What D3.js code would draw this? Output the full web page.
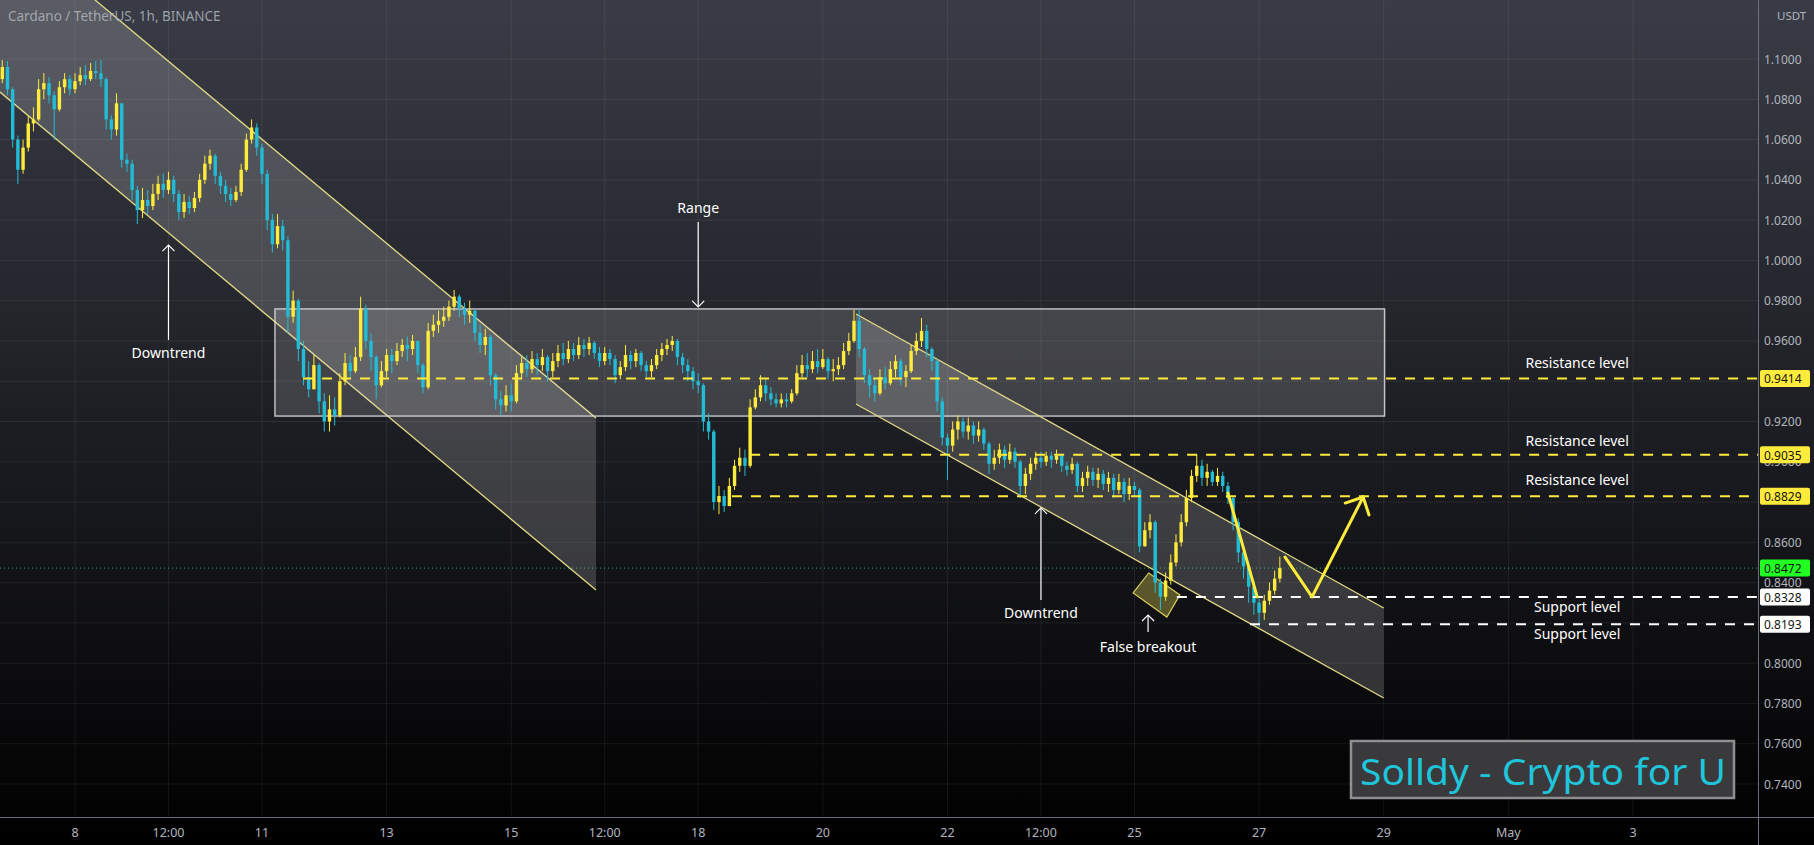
<!DOCTYPE html>
<html><head><meta charset="utf-8">
<script src="https://cdn.jsdelivr.net/npm/d3@7"></script>
<style>html,body{margin:0;padding:0;background:#000;overflow:hidden}</style>
</head><body>
<svg id="c" width="1814" height="845"></svg>
<script>
// ---------- DATA (ADA/USDT, 2h bars, prices x 1e-4) ----------
const title = "Cardano / TetherUS, 1h, BINANCE";
const startTime = "2022-04-06T20:00:00Z";
const barHours = 2;
const firstOpen = 10900;
const closes = [
10960,10850,10600,10450,10560,10680,10700,10850,10880,10820,
10750,10860,10900,10850,10890,10920,10900,10940,10930,10900,
10700,10650,10780,10500,10480,10350,10250,10300,10270,10330,
10380,10350,10400,10330,10240,10290,10260,10310,10400,10480,
10520,10420,10370,10330,10300,10340,10450,10600,10660,10560,
10430,10200,10080,10170,10100,9720,9800,9560,9420,9360,
9480,9300,9200,9260,9230,9400,9490,9450,9520,9760,
9600,9520,9380,9450,9530,9500,9550,9580,9560,9600,
9480,9370,9650,9680,9700,9720,9770,9820,9760,9730,
9750,9640,9580,9620,9430,9310,9280,9330,9300,9440,
9490,9460,9510,9480,9520,9450,9500,9540,9510,9560,
9530,9580,9560,9590,9540,9500,9540,9510,9430,9470,
9530,9500,9540,9480,9450,9480,9530,9560,9580,9600,
9520,9480,9450,9400,9380,9200,9150,8800,8830,8780,
8880,8980,9020,8980,9270,9320,9380,9340,9310,9290,
9310,9300,9340,9440,9480,9460,9500,9470,9510,9450,
9460,9480,9550,9600,9700,9560,9430,9380,9340,9420,
9390,9460,9500,9420,9450,9550,9600,9650,9560,9500,
9300,9120,9080,9160,9200,9150,9180,9130,9160,9090,
8990,9020,9060,9010,9050,9000,8880,8940,8990,9020,
9000,9030,9010,9030,8980,8960,8990,8880,8920,8950,
8910,8940,8890,8920,8860,8900,8840,8880,8860,8580,
8660,8700,8400,8330,8410,8500,8600,8700,8820,8930,
8980,8920,8950,8900,8930,8880,8820,8700,8550,8480,
8380,8300,8250,8310,8360,8420,8472];
const highs = [
10995,10990,10860,10620,10600,10720,10760,10900,10930,10910,
10840,10890,10930,10920,10930,10960,10970,10980,10990,10995,
10910,10720,10830,10780,10530,10500,10370,10360,10350,10380,
10420,10430,10440,10420,10350,10330,10320,10340,10430,10520,
10550,10530,10440,10400,10360,10370,10480,10630,10700,10680,
10580,10450,10230,10230,10200,10120,9850,9810,9600,9500,
9530,9490,9340,9330,9320,9440,9540,9530,9570,9820,
9780,9640,9530,9500,9560,9560,9590,9610,9620,9630,
9600,9490,9690,9730,9750,9770,9800,9853,9830,9790,
9800,9760,9680,9660,9630,9440,9350,9380,9390,9480,
9520,9530,9550,9540,9560,9530,9540,9580,9590,9600,
9590,9620,9610,9620,9600,9570,9570,9560,9530,9500,
9580,9550,9560,9550,9500,9510,9560,9590,9610,9625,
9610,9540,9510,9470,9440,9390,9240,9160,8880,8860,
8920,9010,9070,9060,9310,9360,9430,9410,9370,9340,
9340,9340,9360,9480,9530,9540,9550,9560,9560,9520,
9510,9520,9590,9640,9754,9760,9570,9460,9420,9460,
9470,9500,9530,9510,9480,9580,9640,9714,9680,9570,
9510,9320,9140,9200,9230,9220,9220,9200,9200,9170,
9100,9060,9090,9080,9090,9070,9010,8970,9020,9050,
9050,9050,9050,9060,9040,9000,9020,9000,8950,8980,
8970,8970,8960,8950,8940,8940,8920,8920,8900,8870,
8700,8740,8710,8420,8450,8540,8640,8740,8860,8960,
9034,9010,8990,8960,8970,8950,8900,8830,8720,8560,
8500,8410,8320,8340,8400,8460,8530];
const lows = [
10880,10820,10560,10380,10430,10540,10640,10690,10800,10780,
10600,10740,10830,10820,10830,10870,10870,10890,10900,10860,
10650,10600,10620,10460,10440,10300,10180,10210,10230,10250,
10300,10310,10330,10290,10200,10210,10230,10240,10290,10380,
10450,10380,10330,10290,10270,10290,10320,10440,10580,10520,
10380,10150,10040,10060,10050,9640,9690,9500,9380,9320,
9380,9240,9150,9150,9180,9220,9380,9420,9440,9500,
9560,9450,9310,9370,9420,9440,9480,9520,9500,9530,
9440,9340,9360,9620,9640,9670,9700,9750,9720,9680,
9690,9600,9540,9530,9380,9260,9230,9250,9250,9290,
9410,9420,9440,9430,9450,9400,9420,9470,9480,9490,
9500,9510,9520,9530,9510,9470,9480,9480,9390,9410,
9450,9460,9470,9450,9420,9420,9460,9500,9530,9550,
9480,9440,9400,9360,9340,9150,9110,8760,8740,8750,
8780,8860,8950,8930,8970,9260,9300,9300,9280,9270,
9270,9270,9290,9330,9420,9420,9440,9440,9460,9410,
9400,9430,9460,9530,9590,9520,9390,9320,9300,9330,
9360,9380,9420,9380,9370,9440,9530,9570,9520,9450,
9250,9080,8910,9050,9110,9120,9110,9090,9100,9060,
8940,8960,8990,8970,8990,8970,8820,8840,8910,8960,
8970,8980,8970,8990,8950,8930,8940,8850,8850,8880,
8880,8870,8860,8850,8820,8840,8800,8810,8830,8550,
8590,8620,8350,8264,8310,8390,8480,8580,8680,8800,
8900,8880,8880,8880,8880,8850,8790,8660,8500,8420,
8300,8240,8180,8215,8290,8340,8400];

const priceTicks = [1.10,1.08,1.06,1.04,1.02,1.00,0.98,0.96,0.94,0.92,0.90,0.88,0.86,0.84,0.82,0.80,0.78,0.76,0.74];
const hiddenPriceLabels = [0.94,0.88,0.82];
const timeTickDates = ["2022-04-08T00:00Z","2022-04-09T12:00Z","2022-04-11T00:00Z","2022-04-13T00:00Z","2022-04-15T00:00Z","2022-04-16T12:00Z","2022-04-18T00:00Z","2022-04-20T00:00Z","2022-04-22T00:00Z","2022-04-23T12:00Z","2022-04-25T00:00Z","2022-04-27T00:00Z","2022-04-29T00:00Z","2022-05-01T00:00Z","2022-05-03T00:00Z"];
const timeTickLabels = ["8","12:00","11","13","15","12:00","18","20","22","12:00","25","27","29","May","3"];

// horizontal levels
const levelPrices = [0.9414, 0.9035, 0.8829, 0.8328, 0.8193];
const levelStarts = ["2022-04-11T15:50Z","2022-04-18T20:00Z","2022-04-18T13:00Z","2022-04-25T16:20Z","2022-04-26T20:30Z"];
const levelKinds  = ["res","res","res","sup","sup"];
const levelLabels = ["Resistance level","Resistance level","Resistance level","Support level","Support level"];
const levelLabelPrices = [0.9495, 0.9108, 0.8910, 0.8279, 0.8145];
const levelLabelTime = "2022-05-02T02:30Z";
const lastPrice = 0.8472;

// channels: [startTime, endTime, upperStart, upperEnd, lowerStart, lowerEnd]
const channel1 = ["2022-04-06T19:07Z","2022-04-16T08:38Z",1.1687,0.9217,1.0836,0.8363];
const channel2 = ["2022-04-20T12:46Z","2022-04-29T00:00Z",0.9734,0.8274,0.9287,0.7827];
const rangeBox = ["2022-04-11T05:00Z","2022-04-29T00:20Z",0.9759,0.9227];

// annotation arrows: [time, tailPrice, tipPrice, text, textPrice]
const notes = [
  ["2022-04-09T12:00Z",0.9605,1.0076,"Downtrend",0.9545],
  ["2022-04-18T00:00Z",1.0191,0.9769,"Range",1.0262],
  ["2022-04-23T12:00Z",0.8314,0.8771,"Downtrend",0.8254],
  ["2022-04-25T05:15Z",0.8155,0.8239,"False breakout",0.8085]
];
const fbTimes  = ["2022-04-24T23:30Z","2022-04-25T05:30Z","2022-04-25T17:30Z","2022-04-25T12:30Z"];
const fbPrices = [0.8349,0.8448,0.8339,0.8229];
const drawDownTimes  = ["2022-04-26T12:00Z","2022-04-26T23:16Z"];
const drawDownPrices = [0.8845,0.8329];
const zigTimes  = ["2022-04-27T10:00Z","2022-04-27T20:24Z","2022-04-28T16:04Z"];
const zigPrices = [0.8527,0.8329,0.8825];
const headTimes  = ["2022-04-28T09:10Z","2022-04-28T18:20Z"];
const headPrices = [0.8795,0.8736];
const watermark = "Solldy - Crypto for U";

// ---------- RENDER ----------
const W = 1814, H = 845, plotR = 1758, plotB = 817;
const svg = d3.select("#c");
const P = t => new Date(t);
const x = d3.scaleUtc().domain([P("2022-04-08T00:00Z"), P("2022-05-03T00:00Z")]).range([75, 1633]);
const y = d3.scaleLinear().domain([0.74, 1.10]).range([784, 59]);
const YEL = "#ffeb3b", CYA = "#22bcd6", CH = "#e4da86";
const FONT = "'Noto Sans', 'Open Sans', sans-serif";

const defs = svg.append("defs");
const g = defs.append("linearGradient").attr("id","bg").attr("x1",0).attr("y1",0).attr("x2",0).attr("y2",1);
g.append("stop").attr("offset","0%").attr("stop-color","#393c46");
g.append("stop").attr("offset","55%").attr("stop-color","#1a1b20");
g.append("stop").attr("offset","100%").attr("stop-color","#000000");
defs.append("clipPath").attr("id","plot").append("rect").attr("x",0).attr("y",0).attr("width",plotR).attr("height",plotB);

svg.append("rect").attr("width",W).attr("height",H).attr("fill","url(#bg)");

// grid
const grid = svg.append("g").attr("clip-path","url(#plot)");
grid.selectAll(".hg").data(priceTicks).join("line")
  .attr("x1",0).attr("x2",plotR).attr("y1",d=>y(d)).attr("y2",d=>y(d))
  .attr("stroke","rgba(255,255,255,0.065)");
grid.selectAll(".vg").data(timeTickDates).join("line")
  .attr("x1",d=>x(P(d))).attr("x2",d=>x(P(d))).attr("y1",0).attr("y2",plotB)
  .attr("stroke","rgba(255,255,255,0.065)");

const plot = svg.append("g").attr("clip-path","url(#plot)");

// channel fills
function channel(c){
  const t0 = x(P(c[0])), t1 = x(P(c[1]));
  const pts = [[t0,y(c[2])],[t1,y(c[3])],[t1,y(c[5])],[t0,y(c[4])]];
  plot.append("polygon").attr("points",pts.map(p=>p.join(",")).join(" "))
    .attr("fill","rgba(255,255,255,0.17)");
  plot.append("line").attr("x1",t0).attr("y1",y(c[2])).attr("x2",t1).attr("y2",y(c[3]))
    .attr("stroke",CH).attr("stroke-width",1.3);
  plot.append("line").attr("x1",t0).attr("y1",y(c[4])).attr("x2",t1).attr("y2",y(c[5]))
    .attr("stroke",CH).attr("stroke-width",1.3);
}
channel(channel1);
// range box
plot.append("rect")
  .attr("x",x(P(rangeBox[0]))).attr("y",y(rangeBox[2]))
  .attr("width",x(P(rangeBox[1]))-x(P(rangeBox[0])))
  .attr("height",y(rangeBox[3])-y(rangeBox[2]))
  .attr("fill","rgba(255,255,255,0.15)").attr("stroke","rgba(225,225,225,0.85)").attr("stroke-width",1.4);
channel(channel2);

// last price line
plot.append("line").attr("x1",0).attr("x2",plotR).attr("y1",y(lastPrice)).attr("y2",y(lastPrice))
  .attr("stroke","#3ddc5a").attr("stroke-opacity",0.7).attr("stroke-dasharray","1,3");

// false breakout box
plot.append("polygon")
  .attr("points",fbTimes.map((t,i)=>[x(P(t)),y(fbPrices[i])].join(",")).join(" "))
  .attr("fill","rgba(230,215,80,0.35)").attr("stroke","#d9cc5c").attr("stroke-width",1.2);

// candles
const t0 = P(startTime).getTime();
const bars = closes.map((c,i)=>{
  const o = i===0 ? firstOpen : closes[i-1];
  return {t:new Date(t0 + i*barHours*3600e3), o:o/1e4, c:c/1e4, h:highs[i]/1e4, l:lows[i]/1e4};
});
const bw = 3.4;
const cg = plot.append("g");
cg.selectAll("line").data(bars).join("line")
  .attr("x1",d=>x(d.t)).attr("x2",d=>x(d.t))
  .attr("y1",d=>y(Math.max(d.h,d.o,d.c))).attr("y2",d=>y(Math.min(d.l,d.o,d.c)))
  .attr("stroke",d=>d.c>=d.o?YEL:CYA).attr("stroke-width",1);
cg.selectAll("rect").data(bars).join("rect")
  .attr("x",d=>x(d.t)-bw/2).attr("width",bw)
  .attr("y",d=>y(Math.max(d.o,d.c)))
  .attr("height",d=>Math.max(1,Math.abs(y(d.o)-y(d.c))))
  .attr("fill",d=>d.c>=d.o?YEL:CYA);

// levels
levelPrices.forEach((p,i)=>{
  plot.append("line").attr("x1",x(P(levelStarts[i]))).attr("x2",plotR)
    .attr("y1",y(p)).attr("y2",y(p))
    .attr("stroke",levelKinds[i]==="res"?YEL:"#ffffff").attr("stroke-width",2)
    .attr("stroke-dasharray","10,9");
  plot.append("text").attr("x",x(P(levelLabelTime))).attr("y",y(levelLabelPrices[i]))
    .attr("text-anchor","middle").attr("dominant-baseline","central")
    .attr("fill","#ffffff").attr("font-family",FONT).attr("font-size",14)
    .text(levelLabels[i]);
});

// hand drawn yellow path
const ln = d3.line();
plot.append("path").attr("d",ln(drawDownTimes.map((t,i)=>[x(P(t)),y(drawDownPrices[i])])))
  .attr("stroke",YEL).attr("stroke-width",3).attr("fill","none").attr("stroke-linecap","round");
plot.append("path").attr("d",ln(zigTimes.map((t,i)=>[x(P(t)),y(zigPrices[i])])))
  .attr("stroke",YEL).attr("stroke-width",3).attr("fill","none").attr("stroke-linejoin","round").attr("stroke-linecap","round");
const tip = [x(P(zigTimes[2])), y(zigPrices[2])];
headTimes.forEach((t,i)=>{
  plot.append("line").attr("x1",tip[0]).attr("y1",tip[1]).attr("x2",x(P(t))).attr("y2",y(headPrices[i]))
    .attr("stroke",YEL).attr("stroke-width",3).attr("stroke-linecap","round");
});

// arrows + notes
notes.forEach(n=>{
  const xx = x(P(n[0])), ya = y(n[1]), yb = y(n[2]);
  plot.append("line").attr("x1",xx).attr("x2",xx).attr("y1",ya).attr("y2",yb)
    .attr("stroke","#ffffff").attr("stroke-width",1.2);
  const dir = yb < ya ? 1 : -1;
  plot.append("path").attr("d",`M${xx-6},${yb+dir*6}L${xx},${yb}L${xx+6},${yb+dir*6}`)
    .attr("stroke","#ffffff").attr("stroke-width",1.2).attr("fill","none");
  plot.append("text").attr("x",xx).attr("y",y(n[4])).attr("text-anchor","middle")
    .attr("dominant-baseline","central").attr("fill","#ffffff")
    .attr("font-family",FONT).attr("font-size",14).text(n[3]);
});

// axes lines
svg.append("line").attr("x1",0).attr("x2",W).attr("y1",plotB+0.5).attr("y2",plotB+0.5).attr("stroke","#6b6e78");
svg.append("line").attr("x1",plotR+0.5).attr("x2",plotR+0.5).attr("y1",0).attr("y2",H).attr("stroke","#6b6e78");

// x axis labels
svg.append("g").selectAll("text").data(timeTickDates).join("text")
  .attr("x",d=>x(P(d))).attr("y",832).attr("text-anchor","middle").attr("dominant-baseline","central")
  .attr("fill","#b2b5be").attr("font-family",FONT).attr("font-size",12.5)
  .text((d,i)=>timeTickLabels[i]);

// y axis labels (labels under a badge are clipped to the part left uncovered)
const badgeP = levelPrices.concat([lastPrice]);
const badgeC = levelKinds.map(k=>k==="res"?YEL:"#ffffff").concat(["#22ff22"]);
svg.append("g").selectAll("text").data(priceTicks.filter(p=>!hiddenPriceLabels.includes(p))).join("text")
  .attr("x",1764).attr("y",d=>y(d)).attr("dominant-baseline","central")
  .attr("fill","#b2b5be").attr("font-family",FONT).attr("font-size",12)
  .text(d=>d.toFixed(4));
svg.append("text").attr("x",1777).attr("y",15).attr("dominant-baseline","central")
  .attr("fill","#b2b5be").attr("font-family",FONT).attr("font-size",11.5).text("USDT");

// price badges
badgeP.forEach((p,i)=>{
  svg.append("rect").attr("x",1760).attr("y",y(p)-8.5).attr("width",50).attr("height",17)
    .attr("rx",2).attr("fill",badgeC[i]);
  svg.append("text").attr("x",1764).attr("y",y(p)+0.5).attr("dominant-baseline","central")
    .attr("fill","#131313").attr("font-family",FONT).attr("font-size",12).text(p.toFixed(4));
});

// title
svg.append("text").attr("x",8).attr("y",16).attr("dominant-baseline","central")
  .attr("fill","#b2b5be").attr("fill-opacity",0.85).attr("font-family",FONT).attr("font-size",13.5)
  .text(title);

// watermark
svg.append("rect").attr("x",1351).attr("y",741).attr("width",383).attr("height",57)
  .attr("fill","#3a3a3c").attr("stroke","#8e8e90").attr("stroke-width",2.5);
svg.append("text").attr("x",1360).attr("y",771).attr("dominant-baseline","central")
  .attr("fill","#1fc5da").attr("font-family",FONT).attr("font-size",36)
  .attr("textLength",366).attr("lengthAdjust","spacingAndGlyphs").text(watermark);
</script>
</body></html>
